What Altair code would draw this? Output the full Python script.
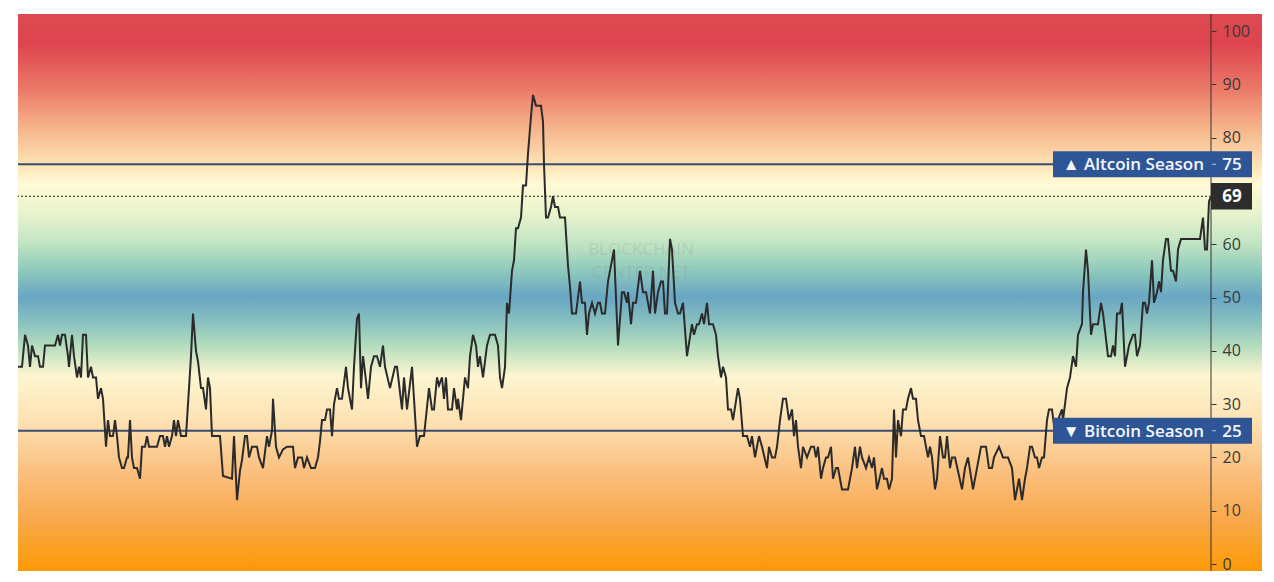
import altair as alt
import pandas as pd

# ---- data ----
day = [0, 4, 7, 10, 12, 14, 17, 20, 22, 25, 27, 37, 40, 42, 44, 47, 50, 51, 54, 56, 59, 61, 63, 65, 68, 70, 73, 75, 78, 80,
       83, 85, 88, 90, 92, 95, 97, 99, 101, 104, 106, 109, 110, 112, 114, 116, 119, 122, 124, 127, 129, 131, 139, 142, 145,
       147, 149, 151, 154, 156, 158, 160, 163, 168, 170, 173, 175, 178, 180, 183, 185, 188, 190, 192, 194, 197,
       199, 202, 205, 214, 216, 219, 222, 224, 227, 229, 231, 234, 239, 241, 245, 249, 251, 254, 255, 258, 261, 265, 269,
       272, 275, 277, 280, 284, 286, 289, 293, 297, 300, 302, 304, 307, 309, 312, 314, 316, 319, 321, 324, 328, 330, 334,
       336, 339, 341, 343, 345, 347, 350, 353, 356, 359, 362, 365, 367, 372, 377, 379, 384, 386, 389, 394, 399, 402,
       406, 411, 414, 416, 419, 421, 424, 426, 428, 430, 434, 436, 439, 440, 443, 447, 450, 452, 455, 458, 460, 462, 465,
       469, 472, 477, 480, 482, 484, 487, 489, 491, 494, 496, 498, 500, 503, 505, 508, 510, 513, 515, 518, 523, 525, 526,
       528, 530, 533, 535, 537, 540, 542, 547, 550, 552, 554, 558, 562, 564, 567, 569, 571, 574, 577, 580, 582, 584, 587,
       590, 592, 596,
       600, 604, 606, 609, 610, 613, 615, 618, 622, 625, 628, 632, 635, 637, 640, 643, 645, 647, 649, 652, 654, 657, 660,
       662, 665, 669, 674, 676, 679, 681, 684, 686, 689, 691, 695, 698, 700, 703, 705, 708, 710, 713, 715, 720, 722, 725,
       729, 732, 734, 737, 741, 744, 749, 751, 754, 757, 759, 762, 765, 768, 771, 774, 776, 778, 780, 783, 785, 789,
       793, 796, 798, 800, 803, 805, 808, 810, 813, 815, 818, 820, 824, 830, 834, 837, 839, 842, 844, 848, 851, 854, 856,
       859, 864, 866, 869, 871, 874, 876, 878, 880, 883, 885, 888, 890, 893, 895, 898, 900, 903, 906, 910, 912, 914, 917,
       919, 922, 925, 927, 929, 932, 934, 937, 944, 947, 950, 955, 959, 963, 968, 971, 974, 976, 981, 985, 990, 994, 997,
       1001, 1004, 1007, 1009, 1012, 1014, 1017, 1019, 1021, 1024, 1026, 1029, 1031, 1034,
       1037, 1040, 1044, 1045, 1049, 1052, 1055, 1058, 1060, 1064, 1065, 1068, 1070, 1073, 1075, 1080, 1083, 1085, 1090,
       1093, 1095, 1097, 1099, 1102, 1104, 1107, 1111, 1115, 1117, 1119, 1122, 1125, 1127, 1129, 1131, 1134, 1136, 1139,
       1141, 1143, 1145, 1148, 1150, 1153, 1155, 1158, 1160, 1163, 1182, 1185, 1187, 1189, 1191, 1193]

season_index = [37, 37, 43, 41, 37, 41, 39, 39, 37, 37, 41, 41, 43, 41, 43, 43, 39, 37, 43, 39, 35, 37, 35, 43, 43, 35, 37,
                35, 35, 31, 33, 31, 22, 27, 24, 24, 27, 24, 20, 18, 18, 20, 20, 27, 20, 18, 18, 16, 22, 22, 24, 22, 22, 24,
                24, 22, 24, 22, 24, 27, 24, 27, 24, 24, 30, 39, 47, 40, 38, 33, 33, 29, 35, 33, 24, 24,
                24, 24, 16.5, 16, 24, 12, 17.5, 19.5, 24, 24, 20, 22, 22, 20, 18, 24, 22, 25, 31, 22, 20, 21.5, 22, 22, 22,
                18, 20, 20, 18, 20, 18, 18, 20, 23, 27, 27, 29, 29, 24, 30, 33, 31, 31, 37, 33, 29, 37, 46, 47, 33, 39, 36,
                31, 37, 39, 39, 37, 41, 37, 33, 37, 37, 29, 35, 29, 37, 22, 24,
                24, 33, 29, 29, 35, 33.5, 35, 31, 35, 29, 29, 33, 29, 31, 27, 35, 33, 39, 43, 41, 37, 39, 35, 41, 43, 43, 41,
                35, 33, 37, 49, 47, 55, 57, 63, 63, 65, 71, 71, 77, 84, 88, 86, 86, 83, 75, 65, 65, 67, 69, 67, 67, 65, 65,
                56, 52, 47, 47, 53, 49, 49, 43, 47, 49, 47, 49, 49, 47, 47, 53, 55, 59,
                41, 51, 51, 49, 51, 45, 49, 49, 55, 51, 51, 47, 55, 47, 51, 53, 53, 47, 47, 61, 59, 49, 47, 47, 49, 39, 45,
                43, 45, 45, 47, 45, 49, 45, 45, 43, 39, 35, 37, 35, 29, 29, 27, 33, 31, 24, 24, 22, 24, 20, 24, 22, 18, 22,
                20, 20, 22, 27, 31, 31, 27, 29, 24, 27, 22, 18, 22, 20,
                22, 22, 20, 22, 16, 18, 20, 20, 22, 16, 18, 18, 14, 14, 18, 22, 18, 22, 20, 18, 20, 18, 20, 14, 18, 16, 16,
                14, 16, 29, 20, 27, 24, 29, 29, 31, 33, 31, 31, 27, 24, 24, 20, 22, 20, 14, 16, 24, 20, 20, 24, 18, 20, 20,
                14, 18, 20, 14, 18, 22, 22, 18, 18, 20, 22, 20, 20, 18, 12, 16, 12, 16, 18, 22, 22, 20, 20, 18, 20, 20, 27,
                29, 29,
                24.5, 27, 29, 27, 33, 35, 39, 37, 43, 45, 51, 59, 55, 43, 45, 45, 49, 47, 39, 39, 41, 39, 47, 47, 49, 37,
                41, 43, 43, 39, 41, 49, 49, 47, 49, 57, 49, 51, 53, 51, 57, 61, 61, 55, 55, 53, 59, 61, 61, 65, 59, 59, 68,
                69]

# the 70 label is hidden under the current-value box in the reference
tick_values = [0, 10, 20, 30, 40, 50, 60, 80, 90, 100]
season_levels = [75, 25]
season_names = ["▲ Altcoin Season", "▼ Bitcoin Season"]
current_value = 69
watermark = ["BLOCKCHAIN", "CENTER.NET"]

grad_offsets = [0.0, 0.054, 0.135, 0.207, 0.27, 0.306, 0.36, 0.414, 0.459, 0.508, 0.55, 0.595, 0.649, 0.73, 0.82,
                0.91, 1.0]
grad_colors = ["#dc4a50", "#de444f", "#eb7a68", "#f6b68c", "#fde3b4", "#fffad6", "#e7f3cc", "#bfe3c2", "#90cabc",
               "#69a6c3", "#86bfbf", "#b3dcbd", "#fcf6d0", "#fde2b3", "#fac080", "#f9a84a", "#fc9a05"]

# ---- layout ----
W, H = 1193, 557
BG_RIGHT = 1244
Y_DOMAIN = [-1.31, 103.19]
BOX_HALF = 2.45

df = pd.DataFrame({"day": day, "value": season_index})
xscale = alt.Scale(domain=[0, day[-1]], nice=False, zero=False)
yscale = alt.Scale(domain=Y_DOMAIN, nice=False, zero=False)
yaxis = alt.Axis(orient="right", values=tick_values, title=None, grid=False, domain=False,
                 tickColor="#333333", tickSize=5, labelPadding=6, labelFontSize=16,
                 labelFont="Open Sans", labelColor="#3a3a3a", zindex=1, labelBound=False, labelFlush=False)


def Y(field):
    return alt.Y(field, scale=yscale, axis=yaxis, title=None)


base_one = pd.DataFrame({"k": [0]})

bg = alt.Chart(base_one).mark_rect(
    color=alt.Gradient(
        gradient="linear",
        stops=[alt.GradientStop(offset=o, color=c) for o, c in zip(grad_offsets, grad_colors)],
        x1=0, x2=0, y1=0, y2=1,
    )
).encode(x=alt.value(0), x2=alt.value(BG_RIGHT), y=alt.value(0), y2=alt.value(H))

wm_layers = []
for txt, ypix in zip(watermark, [236, 259]):
    wm_layers.append(
        alt.Chart(pd.DataFrame({"t": [txt]})).mark_text(
            fontSize=17, font="Open Sans", color="#7a8a90", opacity=0.18, align="center", baseline="middle"
        ).encode(x=alt.value(623), y=alt.value(ypix), text="t:N")
    )

axis_line = alt.Chart(base_one).mark_rule(color="#333333", strokeWidth=1).encode(
    x=alt.value(W), y=alt.value(0), y2=alt.value(H)
)

lv = pd.DataFrame({"level": season_levels, "name": season_names,
                   "lo": [v - BOX_HALF for v in season_levels],
                   "hi": [v + BOX_HALF for v in season_levels],
                   "num": [str(v) for v in season_levels]})

level_rules = alt.Chart(lv).mark_rule(color="#3c4b74", strokeWidth=2).encode(y=Y("level:Q"))

cur = pd.DataFrame({"level": [current_value], "lo": [current_value - 2.5], "hi": [current_value + 2.5],
                    "num": [str(current_value)]})
cur_rule = alt.Chart(cur).mark_rule(color="#222222", strokeWidth=1, strokeDash=[2, 2]).encode(y=Y("level:Q"))

line = alt.Chart(df).mark_line(color="#2b2b2b", strokeWidth=2).encode(
    x=alt.X("day:Q", scale=xscale, axis=None),
    y=Y("value:Q"),
)

boxes = alt.Chart(lv).mark_rect(color="#2e5596").encode(
    x=alt.value(1035), x2=alt.value(1234), y=Y("lo:Q"), y2="hi:Q",
)
box_ticks = alt.Chart(lv).mark_rule(color="#b8c6de", strokeWidth=1).encode(
    x=alt.value(W + 1), x2=alt.value(W + 5), y=Y("level:Q")
)
box_names = alt.Chart(lv).mark_text(
    color="#f4f7fc", fontSize=17, font="Open Sans", fontWeight=600, align="right", baseline="middle", dy=1
).encode(x=alt.value(1186), y=Y("level:Q"), text="name:N")
box_nums = alt.Chart(lv).mark_text(
    color="#f4f7fc", fontSize=17, font="Open Sans", fontWeight=600, align="center", baseline="middle", dy=1
).encode(x=alt.value(1214), y=Y("level:Q"), text="num:N")

cur_box = alt.Chart(cur).mark_rect(color="#2d2d2d").encode(
    x=alt.value(W), x2=alt.value(1234), y=Y("lo:Q"), y2="hi:Q"
)
cur_num = alt.Chart(cur).mark_text(
    color="#ffffff", fontSize=17, font="Open Sans", fontWeight="bold", align="center", baseline="middle", dy=1
).encode(x=alt.value(1214), y=Y("level:Q"), text="num:N")

chart = alt.layer(
    bg, *wm_layers, level_rules, cur_rule, line, axis_line, boxes, box_ticks, box_names, box_nums, cur_box, cur_num
).resolve_scale(y="shared").properties(
    width=W, height=H,
    padding={"left": 10, "top": 6, "right": 51, "bottom": 3},
    autosize=alt.AutoSizeParams(type="none"),
    background="#ffffff",
).configure_view(stroke=None)

chart.save("out.html", embed_options={"renderer": "svg", "actions": False})
